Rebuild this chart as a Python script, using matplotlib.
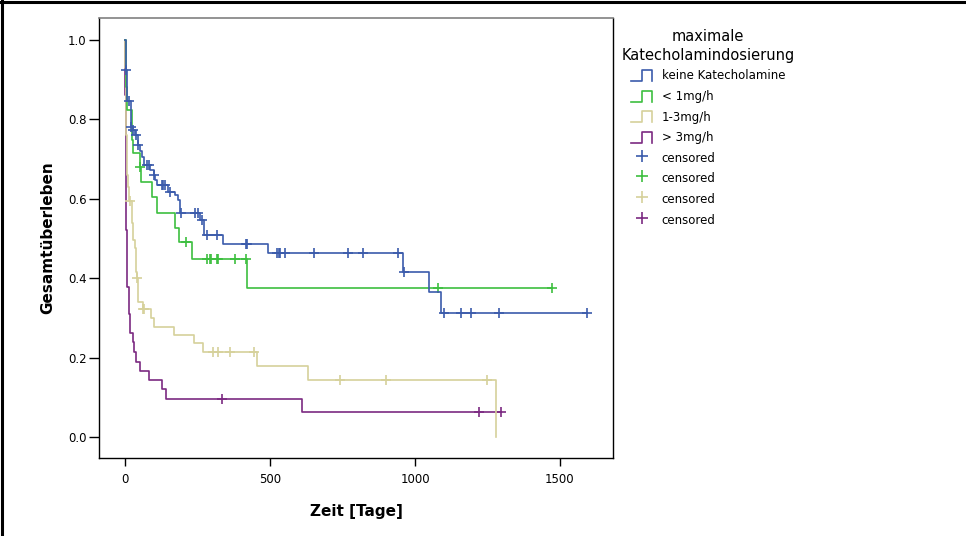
import numpy as np
import matplotlib.pyplot as plt
from matplotlib.lines import Line2D
from matplotlib.legend_handler import HandlerBase

# Kaplan-Meier steps per group: event days, survival after the event, censored days
keine_t = [0, 2, 5, 20, 28, 34, 45, 52, 57, 65, 86, 98, 103, 109, 149, 172, 184, 190,
           258, 272, 337, 494, 960, 1049, 1088]
keine_s = [1.0, 0.923, 0.845, 0.78, 0.773, 0.76, 0.735, 0.719, 0.706, 0.685, 0.672, 0.66,
           0.647, 0.635, 0.618, 0.61, 0.597, 0.565, 0.547, 0.509, 0.486, 0.463, 0.416,
           0.364, 0.313]
keine_c = [3, 15, 22, 29, 36, 46, 75, 82, 99, 126, 132, 138, 154, 193, 241, 252, 264,
           282, 316, 417, 422, 525, 531, 534, 552, 653, 768, 822, 940, 962, 1100, 1159,
           1192, 1290, 1595]

unter1_t = [0, 2, 3, 4, 8, 23, 26, 50, 55, 92, 111, 172, 186, 230, 420]
unter1_s = [1.0, 0.96, 0.92, 0.88, 0.824, 0.748, 0.715, 0.681, 0.641, 0.605, 0.565,
            0.525, 0.49, 0.448, 0.375]
unter1_c = [51, 210, 284, 293, 295, 318, 322, 379, 417, 1080, 1472]

mittel_t = [0, 0.5, 1, 1.5, 2, 3, 4, 5, 6, 8, 10, 12, 14, 23, 29, 34, 37, 40, 44, 46, 61,
            88, 98, 169, 236, 268, 456, 630, 1279]
mittel_s = [1.0, 0.966, 0.93, 0.88, 0.84, 0.8, 0.76, 0.72, 0.69, 0.66, 0.63, 0.61, 0.593,
            0.538, 0.496, 0.475, 0.416, 0.401, 0.364, 0.341, 0.322, 0.299, 0.278, 0.257,
            0.236, 0.213, 0.179, 0.144, 0.0]
mittel_c = [18, 41, 62, 65, 302, 319, 362, 446, 741, 899, 1247]

ueber3_t = [0, 0.5, 1, 1.5, 2, 2.5, 3, 5, 8, 14, 17, 26, 32, 38, 52, 83, 126, 140, 611]
ueber3_s = [1.0, 0.93, 0.86, 0.78, 0.69, 0.6, 0.52, 0.43, 0.378, 0.31, 0.263, 0.238,
            0.215, 0.19, 0.167, 0.144, 0.12, 0.095, 0.064]
ueber3_c = [336, 1222, 1297]

gruppen = ["keine Katecholamine", "< 1mg/h", "1-3mg/h", "> 3mg/h"]
farben = ["#3b5bab", "#3dbf3f", "#d6d19b", "#7c2a82"]
x_ticks = [0, 500, 1000, 1500]
y_ticks = [0.0, 0.2, 0.4, 0.6, 0.8, 1.0]


class StepKey(Line2D):
    pass


class StepHandler(HandlerBase):
    # little step icon for the legend
    def create_artists(self, legend, orig_handle, xdescent, ydescent,
                       width, height, fontsize, trans):
        x0 = -xdescent
        y0 = -ydescent
        lo = y0 + 0.18 * height
        hi = y0 + 0.82 * height
        xs = [x0, x0 + 0.5 * width, x0 + 0.5 * width, x0 + width, x0 + width]
        ys = [lo, lo, hi, hi, lo]
        ln = Line2D(xs, ys, color=orig_handle.get_color(), lw=1.2)
        ln.set_transform(trans)
        return [ln]


def km_line(ax, t, s, cens, color, z):
    t = np.array(t, dtype=float)
    s = np.array(s, dtype=float)
    end = max(t.max(), max(cens))
    ax.step(np.append(t, end), np.append(s, s[-1]), where="post", color=color, lw=1.2,
            zorder=z)
    idx = np.searchsorted(t, cens, side="right") - 1
    ax.plot(cens, s[idx], ls="none", marker="+", ms=7, mew=1.2, color=color, zorder=z)


fig = plt.figure(figsize=(9.66, 5.36), dpi=100)
ax = fig.add_axes([99 / 966, 78 / 536, 514 / 966, 440 / 536])

daten = [(keine_t, keine_s, keine_c), (unter1_t, unter1_s, unter1_c),
         (mittel_t, mittel_s, mittel_c), (ueber3_t, ueber3_s, ueber3_c)]
for i, ((t, s, c), col) in enumerate(zip(daten, farben)):
    km_line(ax, t, s, c, col, 6 - i)

ax.set_xlim(-90, 1683)
ax.set_ylim(-0.053, 1.055)
ax.set_xticks(x_ticks)
ax.set_yticks(y_ticks)
ax.set_yticklabels(["%.1f" % v for v in y_ticks])
ax.tick_params(axis="x", length=6, width=1, labelsize=8.5, pad=5)
ax.tick_params(axis="y", length=7, width=1, labelsize=8.5, pad=2)
ax.spines["top"].set_color("#808080")
ax.spines["top"].set_linewidth(1.2)
for sp in ["left", "right", "bottom"]:
    ax.spines[sp].set_linewidth(1.0)

ax.set_xlabel("Zeit [Tage]", fontsize=11, fontweight="bold", labelpad=13)
ax.set_ylabel("Gesamtüberleben", fontsize=11, fontweight="bold", labelpad=9)

handles = [StepKey([], [], color=c) for c in farben]
handles += [Line2D([], [], color=c, marker="+", ls="none", ms=9, mew=1.2) for c in farben]
labels = gruppen + ["censored"] * 4
leg = fig.legend(handles, labels, title="maximale\nKatecholamindosierung",
                 loc="upper center", bbox_to_anchor=(708 / 966, 1 - 18 / 536),
                 frameon=False, fontsize=8.5, title_fontsize=10.5,
                 handlelength=1.8, handletextpad=0.8, handleheight=1.85,
                 labelspacing=0.3, handler_map={StepKey: StepHandler()})
leg.get_title().set_multialignment("center")
leg.get_title().set_linespacing(1.4)

# outer frame lines (top and left)
fig.add_artist(Line2D([0, 1], [1 - 1.5 / 536, 1 - 1.5 / 536], color="black", lw=2.2,
                      transform=fig.transFigure))
fig.add_artist(Line2D([2 / 966, 2 / 966], [0, 1], color="black", lw=2.2,
                      transform=fig.transFigure))

fig.savefig("out.png", dpi=100)
